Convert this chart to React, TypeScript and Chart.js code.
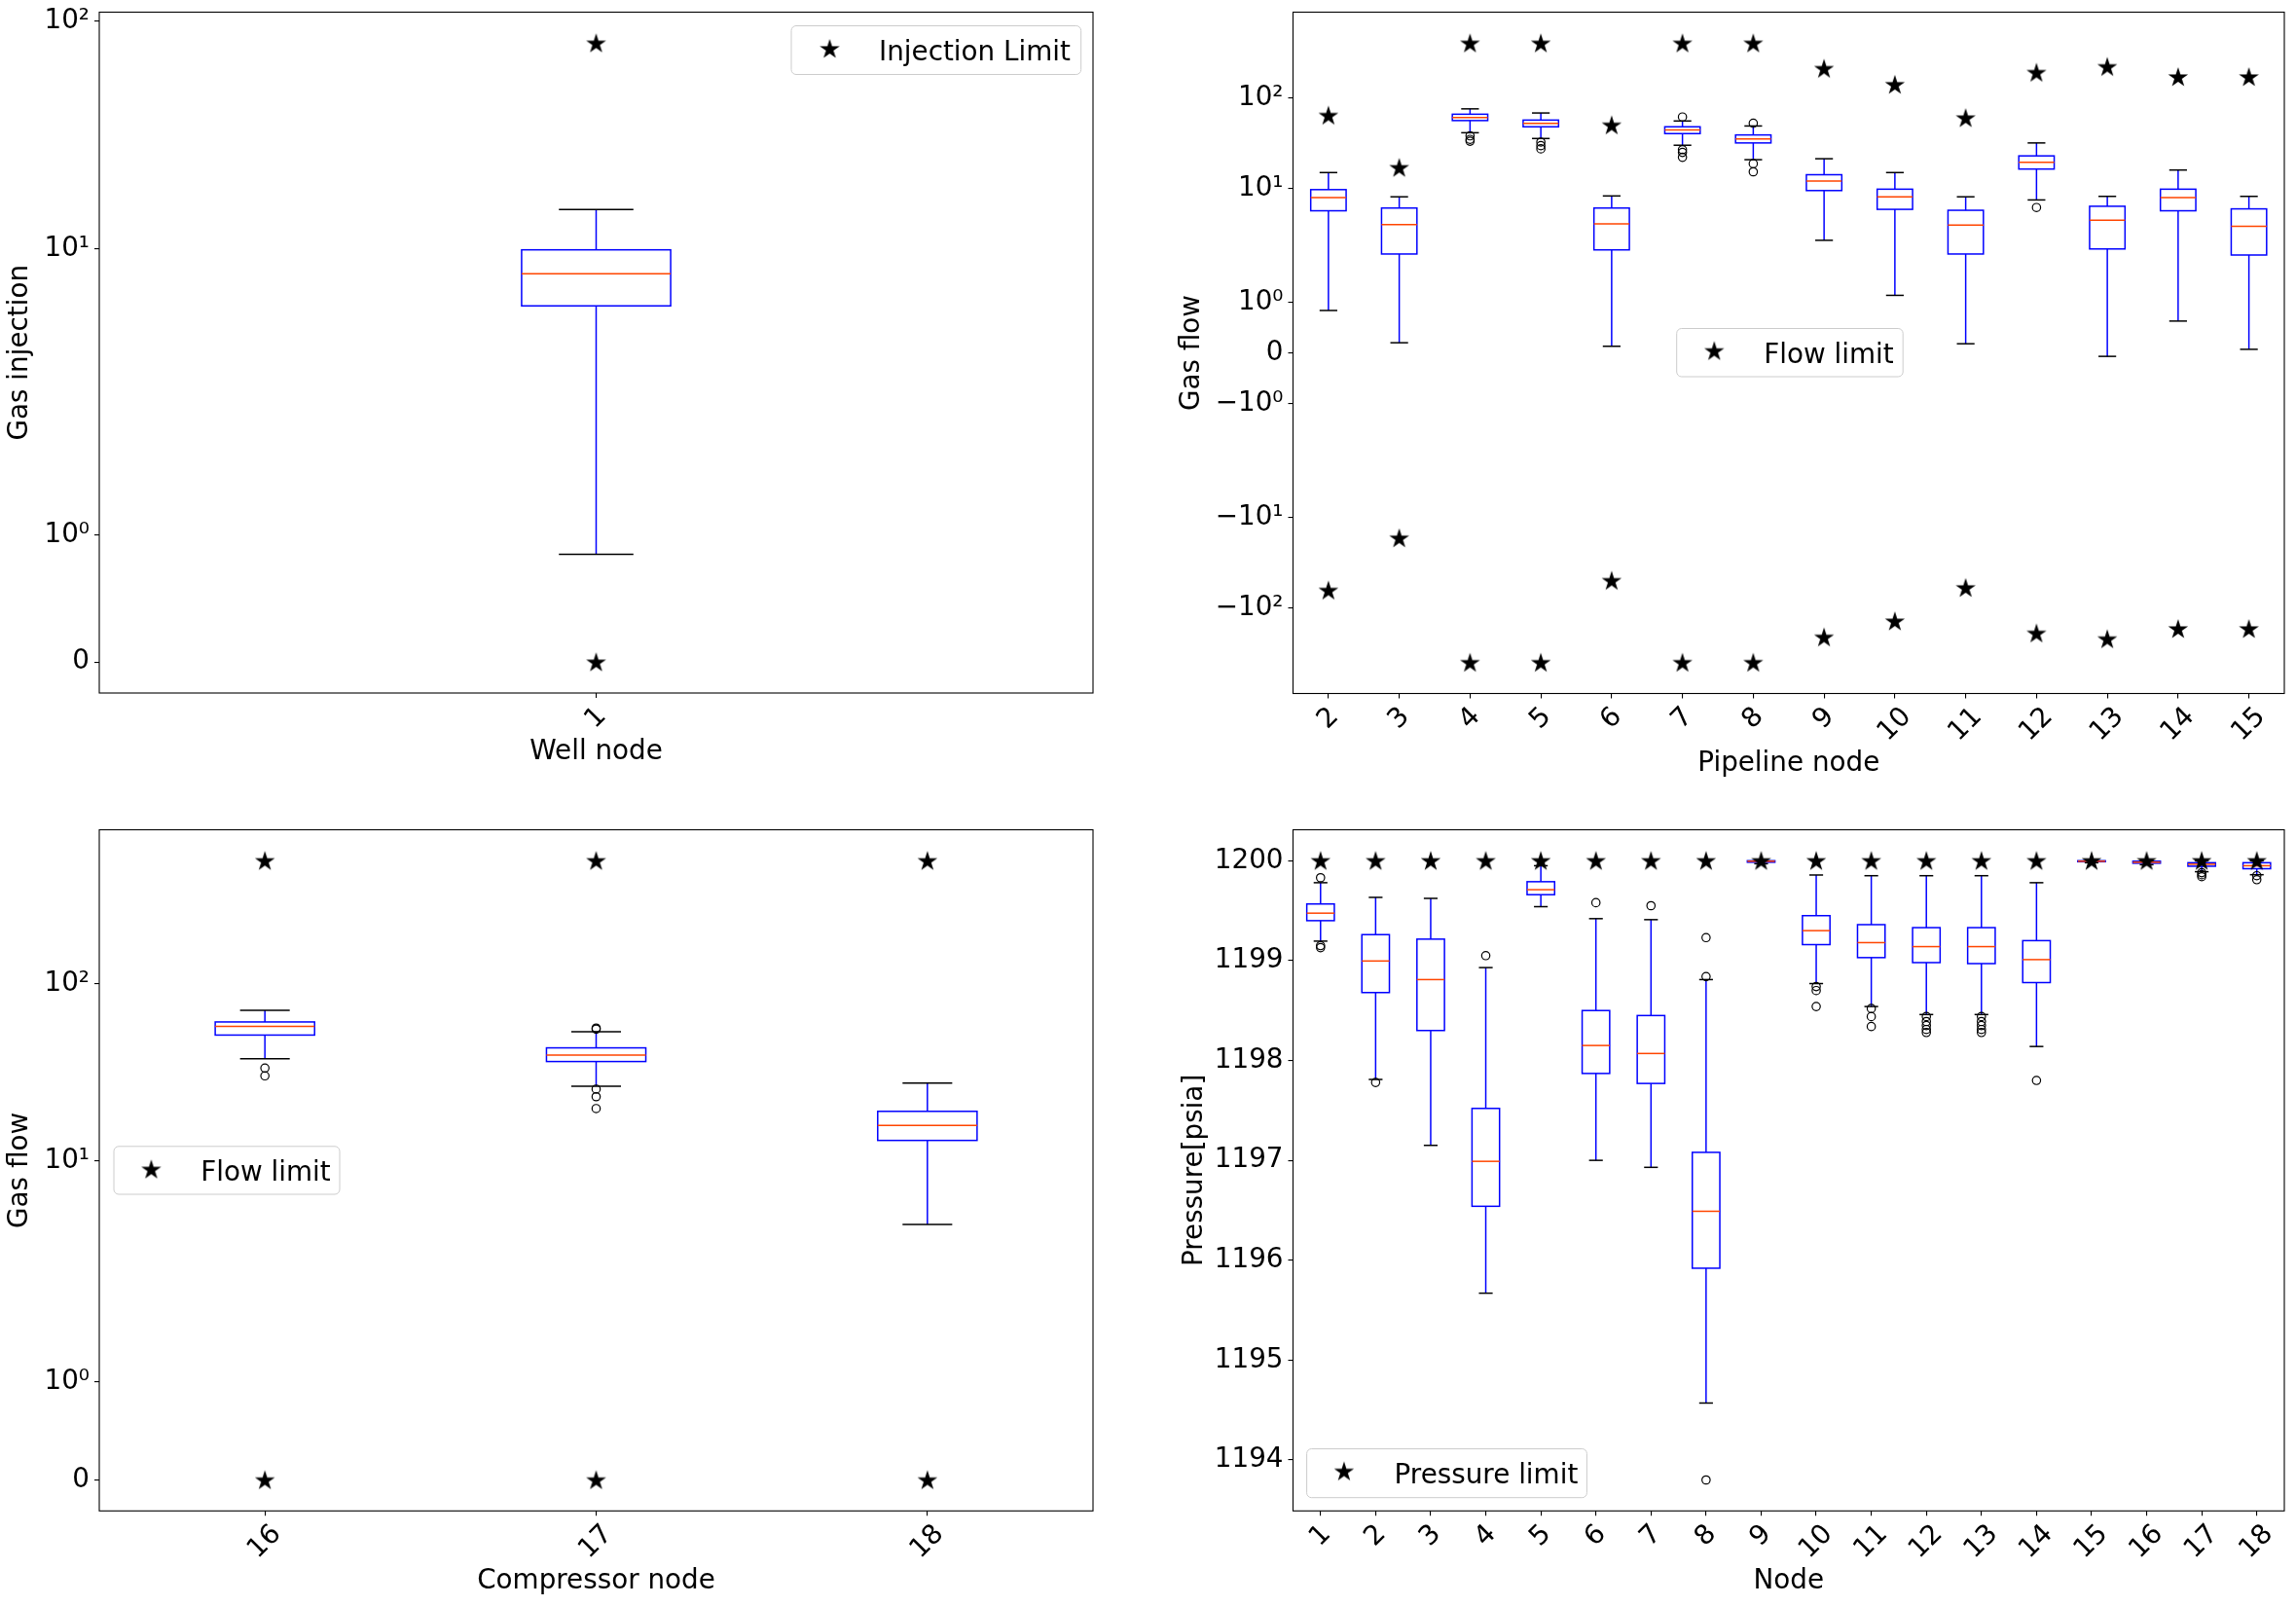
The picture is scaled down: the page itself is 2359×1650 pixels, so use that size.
import React, { useEffect, useRef } from 'react';
import { Chart, registerables, Scale } from 'chart.js';

// ---------------- symlog scale (matplotlib-like, base 10, linthresh 2, linscale 1) ----------------
const LINTHRESH = 2;
const LINSCALE_ADJ = 1 / (1 - 1 / 10);
function symlogT(v: number): number {
  const a = Math.abs(v);
  if (a <= LINTHRESH) return v * LINSCALE_ADJ;
  return Math.sign(v) * LINTHRESH * (LINSCALE_ADJ + Math.log10(a / LINTHRESH));
}
function symlogInv(t: number): number {
  const a = Math.abs(t);
  if (a <= LINTHRESH * LINSCALE_ADJ) return t / LINSCALE_ADJ;
  return Math.sign(t) * LINTHRESH * Math.pow(10, a / LINTHRESH - LINSCALE_ADJ);
}

class SymlogScale extends Scale {
  static id = 'symlog';
  static defaults = {};
  _t0 = 0;
  _t1 = 1;
  parse(raw: any) {
    return raw === null || raw === undefined ? null : +raw;
  }
  determineDataLimits() {
    const o: any = this.options;
    (this as any).min = o.min;
    (this as any).max = o.max;
  }
  buildTicks() {
    return [];
  }
  configure() {
    super.configure();
    this._t0 = symlogT((this as any).min);
    this._t1 = symlogT((this as any).max);
  }
  getLabelForValue(v: number) {
    return String(v);
  }
  getPixelForValue(v: number) {
    return this.getPixelForDecimal((symlogT(v) - this._t0) / (this._t1 - this._t0));
  }
  getValueForPixel(p: number) {
    return symlogInv(this._t0 + this.getDecimalForPixel(p) * (this._t1 - this._t0));
  }
}

Chart.register(...registerables, SymlogScale as any);

// ---------------- data ----------------
// Well node (top-left)
const wellNodes = ['1'];
const wellWhiskerLow = [0.85];
const wellQ1 = [5.64];
const wellMedian = [7.8];
const wellQ3 = [9.93];
const wellWhiskerHigh = [14.9];
const wellFliers: number[][] = [[]];
const wellLimitUpper = [80];
const wellLimitLower = [0];
const wellTicks = [0, 1, 10, 100];

// Pipeline nodes (top-right)
const pipeNodes = ['2', '3', '4', '5', '6', '7', '8', '9', '10', '11', '12', '13', '14', '15'];
const pipeWhiskerLow = [0.84, 0.2, 41.2, 35.6, 0.13, 30.0, 20.8, 2.69, 1.14, 0.18, 7.49, -0.07, 0.63, 0.07];
const pipeQ1 = [5.69, 1.96, 56.1, 47.9, 2.11, 40.3, 31.8, 9.5, 5.9, 1.96, 16.4, 2.16, 5.69, 1.94];
const pipeMedian = [7.94, 4.0, 60.7, 52.4, 4.09, 44.2, 35.2, 12.1, 8.11, 3.96, 19.5, 4.49, 7.94, 3.83];
const pipeQ3 = [9.73, 6.1, 65.9, 56.8, 6.1, 47.9, 38.96, 14.2, 9.84, 5.76, 22.9, 6.38, 9.84, 5.97];
const pipeWhiskerHigh = [15.0, 8.11, 75.5, 68.0, 8.29, 55.5, 48.9, 21.3, 15.0, 8.11, 31.8, 8.2, 16.0, 8.2];
const pipeFliers: number[][] = [
  [], [], [38.1, 34.8, 33.2], [32.5, 29.7, 27.4], [], [61.4, 26.8, 25.0, 22.1], [52.4, 18.8, 15.3],
  [], [], [], [6.18], [], [], [],
];
const pipeLimitUpper = [64, 17, 400, 400, 50, 400, 400, 210, 140, 60, 190, 220, 170, 170];
const pipeLimitLower = [-64, -17, -400, -400, -50, -400, -400, -210, -140, -60, -190, -220, -170, -170];
const pipeTicks = [-100, -10, -1, 0, 1, 10, 100];

// Compressor nodes (bottom-left)
const compNodes = ['16', '17', '18'];
const compWhiskerLow = [37.8, 26.4, 4.34];
const compQ1 = [51.4, 36.4, 13.0];
const compMedian = [57.5, 39.6, 15.8];
const compQ3 = [61.0, 43.5, 19.0];
const compWhiskerHigh = [70.9, 53.7, 27.5];
const compFliers: number[][] = [[33.4, 30.2], [56.3, 55.5, 25.4, 23.0, 19.7], []];
const compLimitUpper = [500, 500, 500];
const compLimitLower = [0, 0, 0];
const compTicks = [0, 1, 10, 100];

// Pressure nodes (bottom-right)
const presNodes = ['1', '2', '3', '4', '5', '6', '7', '8', '9', '10', '11', '12', '13', '14', '15', '16', '17', '18'];
const presWhiskerLow = [1199.195, 1197.81, 1197.15, 1195.67, 1199.54, 1197.0, 1196.93, 1194.57, 1199.97, 1198.77, 1198.54, 1198.46, 1198.46, 1198.14, 1199.98, 1199.96, 1199.89, 1199.86];
const presQ1 = [1199.4, 1198.68, 1198.3, 1196.54, 1199.66, 1197.87, 1197.77, 1195.92, 1199.985, 1199.16, 1199.03, 1198.98, 1198.97, 1198.78, 1199.99, 1199.975, 1199.945, 1199.92];
const presMedian = [1199.475, 1198.996, 1198.81, 1196.99, 1199.71, 1198.15, 1198.07, 1196.49, 1199.995, 1199.3, 1199.18, 1199.14, 1199.14, 1199.01, 1199.995, 1199.985, 1199.965, 1199.95];
const presQ3 = [1199.567, 1199.26, 1199.215, 1197.52, 1199.79, 1198.5, 1198.45, 1197.08, 1200.0, 1199.45, 1199.36, 1199.33, 1199.33, 1199.2, 1200.0, 1199.995, 1199.98, 1199.98];
const presWhiskerHigh = [1199.78, 1199.633, 1199.623, 1198.93, 1199.95, 1199.42, 1199.41, 1198.81, 1200.0, 1199.857, 1199.85, 1199.85, 1199.85, 1199.78, 1200.0, 1200.0, 1200.0, 1200.0];
const presFliers: number[][] = [
  [1199.83, 1199.15, 1199.13], [1197.78], [], [1199.05], [], [1199.58], [1199.55], [1199.23, 1198.84, 1193.8],
  [], [1198.74, 1198.7, 1198.54], [1198.52, 1198.44, 1198.34], [1198.44, 1198.39, 1198.35, 1198.31, 1198.28],
  [1198.44, 1198.39, 1198.35, 1198.31, 1198.28], [1197.8], [], [], [1199.88, 1199.86, 1199.84], [1199.85, 1199.81],
];
const presLimit = [1200, 1200, 1200, 1200, 1200, 1200, 1200, 1200, 1200, 1200, 1200, 1200, 1200, 1200, 1200, 1200, 1200, 1200];
const presTicks = [1194, 1195, 1196, 1197, 1198, 1199, 1200];

// ---------------- helpers ----------------
const FONT = "'DejaVu Sans'";
const FS = 27.8;

const SUP: Record<string, string> = { '0': '⁰', '1': '¹', '2': '²', '3': '³', '4': '⁴' };
function symlogLabel(v: number): string {
  if (v === 0) return '0';
  const e = Math.round(Math.log10(Math.abs(v)));
  return (v < 0 ? '−' : '') + '10' + String(e).split('').map((c) => SUP[c]).join('');
}

function autoLimits(vals: number[], fwd: (v: number) => number, inv: (v: number) => number) {
  const t = vals.map(fwd);
  const a = Math.min(...t);
  const b = Math.max(...t);
  const m = 0.05 * (b - a);
  return [inv(a - m), inv(b + m)];
}

function makeStar(): HTMLCanvasElement {
  const c = document.createElement('canvas');
  c.width = 24;
  c.height = 24;
  const ctx = c.getContext('2d')!;
  const R = 10.7;
  const r = R * 0.381966;
  ctx.beginPath();
  for (let k = 0; k < 10; k++) {
    const rad = k % 2 === 0 ? R : r;
    const ang = -Math.PI / 2 + (k * Math.PI) / 5;
    const x = 12 + rad * Math.cos(ang);
    const y = 12.8 + rad * Math.sin(ang);
    if (k === 0) ctx.moveTo(x, y);
    else ctx.lineTo(x, y);
  }
  ctx.closePath();
  ctx.fillStyle = '#000';
  ctx.fill();
  return c;
}

type Spec = {
  pos: { left: number; top: number; w: number; h: number };
  labels: string[];
  lo: number[];
  q1: number[];
  med: number[];
  q3: number[];
  hi: number[];
  fliers: number[][];
  limUp: number[];
  limLo: number[] | null;
  boxFrac: number;
  yType: 'symlog' | 'linear';
  yTicks: number[];
  xTitle: string;
  yTitle: string;
  legendText: string;
  legendBox: { x: number; y: number; w: number; h: number };
  legendStar: { x: number; y: number };
  legendTextX: number;
  legendBaseline: number;
  yWidth: number;
  padTop: number;
  padRight: number;
  xHeight: number;
  xTitlePad: number;
  yTitlePad: number;
};

function boxesPlugin(s: Spec) {
  return {
    id: 'boxes',
    beforeDatasetsDraw(chart: any) {
      const ctx = chart.ctx;
      const xs = chart.scales.x;
      const ys = chart.scales.y;
      const step = xs.width / s.labels.length;
      const hw = (step * s.boxFrac) / 2;
      const py = (v: number) => ys.getPixelForValue(v);
      const line = (x1: number, y1: number, x2: number, y2: number) => {
        ctx.beginPath();
        ctx.moveTo(x1, y1);
        ctx.lineTo(x2, y2);
        ctx.stroke();
      };
      ctx.save();
      ctx.lineWidth = 1.5;
      s.labels.forEach((_l, i) => {
        const cx = xs.getPixelForValue(i);
        ctx.strokeStyle = '#0000ff';
        line(cx, py(s.q3[i]), cx, py(s.hi[i]));
        line(cx, py(s.q1[i]), cx, py(s.lo[i]));
        ctx.strokeRect(cx - hw, py(s.q3[i]), 2 * hw, py(s.q1[i]) - py(s.q3[i]));
        ctx.strokeStyle = '#000000';
        line(cx - hw / 2, py(s.hi[i]), cx + hw / 2, py(s.hi[i]));
        line(cx - hw / 2, py(s.lo[i]), cx + hw / 2, py(s.lo[i]));
        ctx.strokeStyle = '#ff4500';
        line(cx - hw, py(s.med[i]), cx + hw, py(s.med[i]));
      });
      ctx.restore();
    },
  };
}

const framePlugin = {
  id: 'frame',
  afterDatasetsDraw(chart: any) {
    const { ctx, chartArea } = chart;
    ctx.save();
    ctx.strokeStyle = '#000';
    ctx.lineWidth = 1.1;
    ctx.strokeRect(chartArea.left, chartArea.top, chartArea.right - chartArea.left, chartArea.bottom - chartArea.top);
    ctx.restore();
  },
};

// x tick labels rotated 45°, centred under the tick (matplotlib rotation=45, ha='center')
const xLabelPlugin = {
  id: 'xRotLabels',
  afterDraw(chart: any) {
    const ctx = chart.ctx;
    const xs = chart.scales.x;
    const top = chart.chartArea.bottom + 9.8;
    ctx.save();
    ctx.font = `${FS}px ${FONT}`;
    ctx.fillStyle = '#000';
    ctx.textAlign = 'center';
    ctx.textBaseline = 'middle';
    xs.ticks.forEach((t: any, i: number) => {
      const label = String(t.label);
      const w = ctx.measureText(label).width;
      const bh = (w + FS) * Math.SQRT1_2;
      const x = xs.getPixelForTick(i);
      ctx.save();
      ctx.translate(x, top + bh / 2);
      ctx.rotate(-Math.PI / 4);
      ctx.fillText(label, 0, 0);
      ctx.restore();
    });
    ctx.restore();
  },
};

function legendPlugin(s: Spec, star: HTMLCanvasElement) {
  return {
    id: 'customLegend',
    afterDraw(chart: any) {
      const ctx = chart.ctx;
      const b = s.legendBox;
      ctx.save();
      ctx.beginPath();
      (ctx as any).roundRect(b.x, b.y, b.w, b.h, 5);
      ctx.fillStyle = 'rgba(255,255,255,0.8)';
      ctx.fill();
      ctx.strokeStyle = '#cccccc';
      ctx.lineWidth = 1;
      ctx.stroke();
      ctx.drawImage(star, s.legendStar.x - star.width / 2, s.legendStar.y - star.height / 2);
      ctx.fillStyle = '#000';
      ctx.font = `${FS}px ${FONT}`;
      ctx.textBaseline = 'alphabetic';
      ctx.textAlign = 'left';
      ctx.fillText(s.legendText, s.legendTextX, s.legendBaseline);
      ctx.restore();
    },
  };
}

function buildChart(el: HTMLCanvasElement, s: Spec, star: HTMLCanvasElement) {
  const lin = (v: number) => v;
  const fwd = s.yType === 'symlog' ? symlogT : lin;
  const inv = s.yType === 'symlog' ? symlogInv : lin;
  const all: number[] = [...s.lo, ...s.hi, ...s.limUp, ...(s.limLo || []), ...s.fliers.flat()];
  const [ymin, ymax] = autoLimits(all, fwd, inv);
  const starPts: any[] = [];
  s.labels.forEach((l, i) => {
    starPts.push({ x: l, y: s.limUp[i] });
    if (s.limLo) starPts.push({ x: l, y: s.limLo[i] });
  });
  const flierPts: any[] = [];
  s.labels.forEach((l, i) => s.fliers[i].forEach((v) => flierPts.push({ x: l, y: v })));
  const font = { family: FONT, size: FS };
  const tickGrid = {
    display: true,
    drawOnChartArea: false,
    drawTicks: true,
    tickLength: 5,
    color: '#000',
    lineWidth: 1.1,
  };
  return new Chart(el, {
    type: 'scatter',
    data: {
      labels: s.labels,
      datasets: [
        {
          label: s.legendText,
          data: starPts,
          pointStyle: star,
          pointRadius: 11,
          order: 0,
          clip: false,
        } as any,
        {
          label: 'fliers',
          data: flierPts,
          pointStyle: 'circle',
          pointRadius: 4.2,
          borderColor: '#000',
          backgroundColor: 'rgba(0,0,0,0)',
          borderWidth: 1.2,
          order: 1,
          clip: false,
        } as any,
      ],
    },
    options: {
      animation: false,
      responsive: false,
      devicePixelRatio: 1,
      layout: { padding: { left: 0, top: s.padTop, right: s.padRight, bottom: 0 } },
      plugins: { legend: { display: false }, tooltip: { enabled: false } },
      scales: {
        x: {
          type: 'category',
          labels: s.labels,
          offset: true,
          grid: tickGrid,
          border: { display: false },
          ticks: {
            display: false,
            autoSkip: false,
            color: '#000',
            font,
          },
          title: { display: true, text: s.xTitle, font, color: '#000', padding: { top: 0, bottom: s.xTitlePad } },
          afterFit: (sc: any) => {
            sc.height = s.xHeight;
            sc.paddingLeft = 0;
            sc.paddingRight = 0;
          },
        },
        y: {
          type: s.yType,
          min: ymin,
          max: ymax,
          grid: tickGrid,
          border: { display: false },
          ticks: {
            autoSkip: false,
            padding: 5,
            color: '#000',
            font,
            callback: (v: any) => (s.yType === 'symlog' ? symlogLabel(Number(v)) : String(v)),
          },
          title: { display: true, text: s.yTitle, font, color: '#000', padding: { top: s.yTitlePad, bottom: 0 } },
          afterBuildTicks: (sc: any) => {
            sc.ticks = s.yTicks.map((v) => ({ value: v }));
          },
          afterFit: (sc: any) => {
            sc.width = s.yWidth;
            sc.paddingTop = 0;
            sc.paddingBottom = 0;
          },
        } as any,
      },
    } as any,
    plugins: [boxesPlugin(s), framePlugin, xLabelPlugin, legendPlugin(s, star)],
  });
}

const specs: Spec[] = [
  {
    pos: { left: 0, top: 0, w: 1180, h: 820 },
    labels: wellNodes, lo: wellWhiskerLow, q1: wellQ1, med: wellMedian, q3: wellQ3, hi: wellWhiskerHigh,
    fliers: wellFliers, limUp: wellLimitUpper, limLo: wellLimitLower, boxFrac: 0.15,
    yType: 'symlog', yTicks: wellTicks, xTitle: 'Well node', yTitle: 'Gas injection',
    legendText: 'Injection Limit', legendBox: { x: 813, y: 26.5, w: 297.7, h: 50 },
    legendStar: { x: 852.5, y: 50 }, legendTextX: 903, legendBaseline: 62.2,
    yWidth: 102, padTop: 12.5, padRight: 57, xHeight: 108, xTitlePad: 31, yTitlePad: 4,
  },
  {
    pos: { left: 1205, top: 0, w: 1154, h: 820 },
    labels: pipeNodes, lo: pipeWhiskerLow, q1: pipeQ1, med: pipeMedian, q3: pipeQ3, hi: pipeWhiskerHigh,
    fliers: pipeFliers, limUp: pipeLimitUpper, limLo: pipeLimitLower, boxFrac: 0.5,
    yType: 'symlog', yTicks: pipeTicks, xTitle: 'Pipeline node', yTitle: 'Gas flow',
    legendText: 'Flow limit', legendBox: { x: 517.7, y: 337.5, w: 232.5, h: 49.5 },
    legendStar: { x: 556.3, y: 360.4 }, legendTextX: 607.3, legendBaseline: 373,
    yWidth: 123.5, padTop: 12.5, padRight: 10, xHeight: 107.5, xTitlePad: 18.3, yTitlePad: 3.3,
  },
  {
    pos: { left: 0, top: 830, w: 1180, h: 820 },
    labels: compNodes, lo: compWhiskerLow, q1: compQ1, med: compMedian, q3: compQ3, hi: compWhiskerHigh,
    fliers: compFliers, limUp: compLimitUpper, limLo: compLimitLower, boxFrac: 0.3,
    yType: 'symlog', yTicks: compTicks, xTitle: 'Compressor node', yTitle: 'Gas flow',
    legendText: 'Flow limit', legendBox: { x: 117, y: 347.8, w: 232, h: 49.2 },
    legendStar: { x: 155.4, y: 371.3 }, legendTextX: 206.3, legendBaseline: 383.1,
    yWidth: 102, padTop: 22.5, padRight: 57, xHeight: 97.7, xTitlePad: 8.3, yTitlePad: 4,
  },
  {
    pos: { left: 1205, top: 830, w: 1154, h: 820 },
    labels: presNodes, lo: presWhiskerLow, q1: presQ1, med: presMedian, q3: presQ3, hi: presWhiskerHigh,
    fliers: presFliers, limUp: presLimit, limLo: null, boxFrac: 0.5,
    yType: 'linear', yTicks: presTicks, xTitle: 'Node', yTitle: 'Pressure[psia]',
    legendText: 'Pressure limit', legendBox: { x: 137.6, y: 658.5, w: 287.8, h: 50.2 },
    legendStar: { x: 175.9, y: 681.5 }, legendTextX: 227.6, legendBaseline: 694.3,
    yWidth: 123.5, padTop: 22.5, padRight: 10, xHeight: 97.7, xTitlePad: 8.3, yTitlePad: 5.8,
  },
];

export default function App() {
  const refs = [useRef<HTMLCanvasElement>(null), useRef<HTMLCanvasElement>(null), useRef<HTMLCanvasElement>(null), useRef<HTMLCanvasElement>(null)];
  useEffect(() => {
    Chart.defaults.font.family = FONT;
    Chart.defaults.color = '#000';
    const star = makeStar();
    const charts = specs.map((s, i) => buildChart(refs[i].current!, s, star));
    return () => charts.forEach((c) => c.destroy());
  }, []);
  return (
    <div style={{ position: 'absolute', left: 0, top: 0, width: 2359, height: 1650, background: '#fff' }}>
      {specs.map((s, i) => (
        <canvas
          key={i}
          ref={refs[i]}
          width={s.pos.w}
          height={s.pos.h}
          style={{ position: 'absolute', left: s.pos.left, top: s.pos.top, width: s.pos.w, height: s.pos.h }}
        />
      ))}
    </div>
  );
}
